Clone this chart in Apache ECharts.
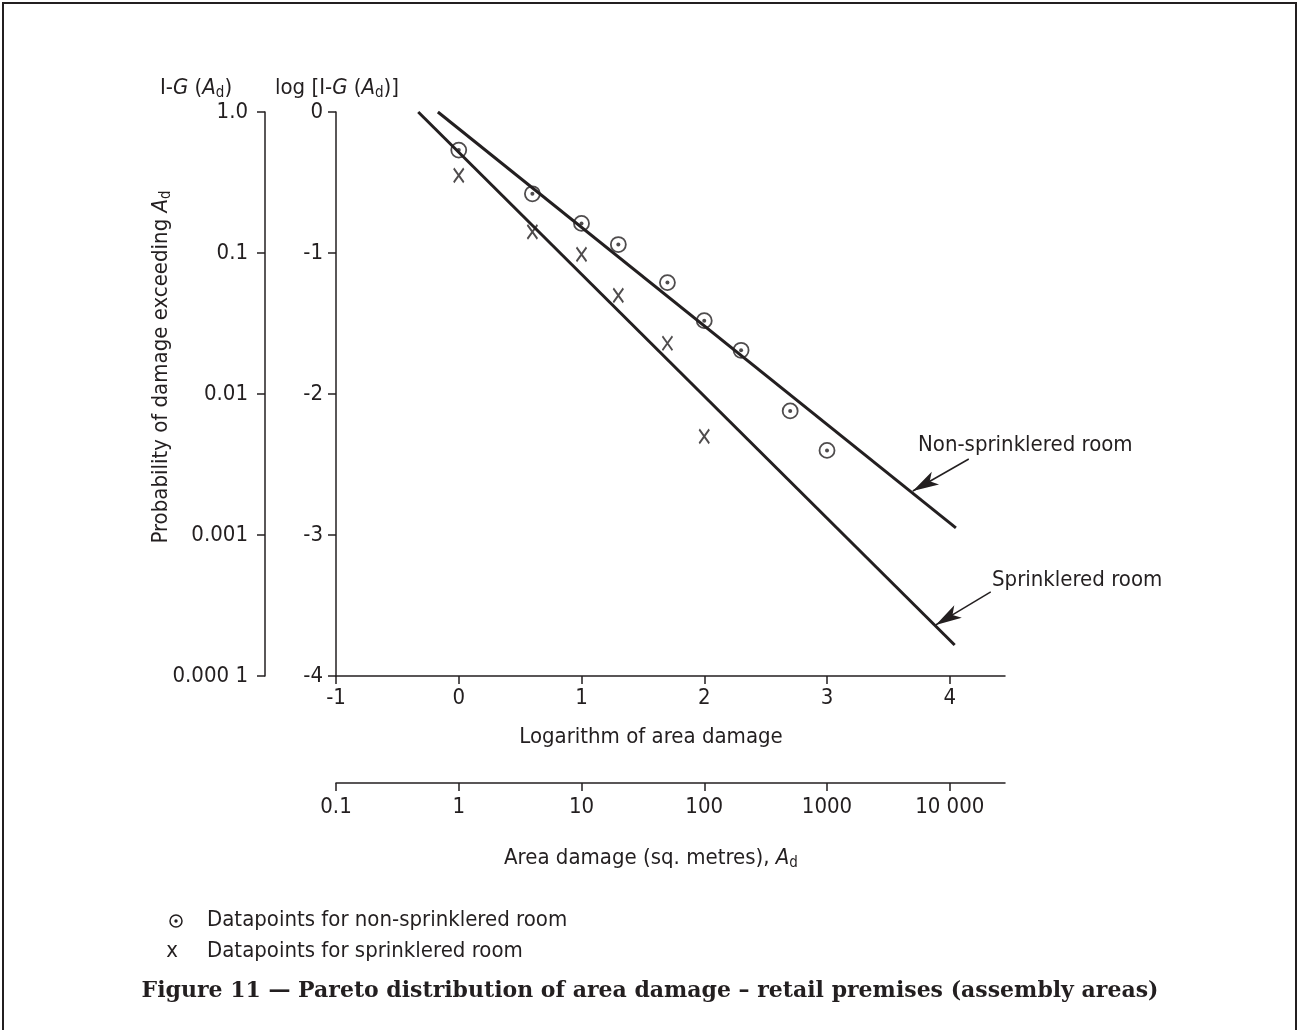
<!DOCTYPE html>
<html>
<head>
<meta charset="UTF-8">
<title>Figure 11 - Pareto distribution of area damage</title>
<script src="https://cdn.jsdelivr.net/npm/echarts@6/dist/echarts.min.js"></script>
<style>
body { margin: 0; padding: 0; background: #fff; }
#main { width: 1300px; height: 1030px; }
</style>
</head>
<body>
<div id="main"></div>
<script>
// values (x = log10 of area, y = log10 of 1-G)
var nonSprLogArea = [0, 0.6, 1, 1.3, 1.7, 2, 2.3, 2.7, 3];
var nonSprLogP = [-0.27, -0.58, -0.79, -0.94, -1.21, -1.48, -1.69, -2.12, -2.40];
var sprLogArea = [0, 0.6, 1, 1.3, 1.7, 2];
var sprLogP = [-0.45, -0.85, -1.01, -1.30, -1.64, -2.30];
// fitted straight lines, end points
var nonSprFit = [[-0.17, 0], [4.05, -2.95]];
var sprFit = [[-0.33, 0], [4.04, -3.78]];
// pointer arrows (from label to line)
var nonSprArrow = [[4.155, -2.461], [3.699, -2.688]];
var sprArrow = [[4.334, -3.404], [3.886, -3.638]];
// tick positions and labels
var xTickVals = [-1, 0, 1, 2, 3, 4];
var yTickVals = [-4, -3, -2, -1, 0];
var areaTicks = ['0.1', '1', '10', '100', '1000', '10 000'];
var probTicks = ['0.000 1', '0.001', '0.01', '0.1', '1.0'];

var ink = '#231f20';
var fam = '"DejaVu Sans Condensed", "Liberation Sans Narrow", "DejaVu Sans", sans-serif';
var fs = 22;

function pairs(xs, ys) {
    return xs.map(function (x, i) { return [x, ys[i]]; });
}

var rich = {
    i: { fontStyle: 'italic', fontSize: fs, fontFamily: fam, color: ink, lineHeight: 26 },
    s: { fontSize: 15, fontFamily: fam, color: ink, verticalAlign: 'bottom', lineHeight: 15 }
};

function txt(x, y, text, align, extra) {
    var o = {
        type: 'text', x: x, y: y, silent: true,
        style: {
            text: text, fill: ink, font: fs + 'px ' + fam,
            align: align || 'left', verticalAlign: 'middle',
            rich: rich, lineHeight: 26
        }
    };
    if (extra) { for (var k in extra) o[k] = extra[k]; }
    return o;
}

function axisCommon(ticks, margin, fmt, extra) {
    var a = {
        type: 'value', min: -1, max: 4.45, interval: 1,
        splitLine: { show: false },
        axisLine: { show: true, onZero: false, lineStyle: { color: ink, width: 1.5 } },
        axisTick: { show: true, inside: false, length: 8, customValues: ticks,
                    lineStyle: { color: ink, width: 1.5 } },
        axisLabel: { color: ink, fontSize: fs, fontFamily: fam, margin: margin,
                     customValues: ticks, formatter: fmt }
    };
    for (var k in extra) a[k] = extra[k];
    return a;
}

var chart = echarts.init(document.getElementById('main'));
var option = {
    animation: false,
    backgroundColor: '#fff',
    grid: { left: 336, top: 112, width: 669, height: 564, outerBoundsMode: 'none', containLabel: false },
    xAxis: [
        axisCommon(xTickVals, 11, function (v) { return String(v); }, { position: 'bottom' }),
        axisCommon(xTickVals, 13, function (v) { return areaTicks[v + 1]; }, { position: 'bottom', offset: 107 })
    ],
    yAxis: [
        axisCommon(yTickVals, 13, function (v) { return String(v); }, { min: -4, max: 0, position: 'left' }),
        axisCommon(yTickVals, 17, function (v) { return probTicks[v + 4]; },
            { min: -4, max: 0, position: 'left', offset: 71 })
    ],
    series: [
        {
            type: 'line', data: nonSprFit, symbol: 'none', silent: true,
            lineStyle: { color: ink, width: 3 },
            markLine: {
                silent: true, symbol: ['none', 'arrow'], symbolSize: [11, 26],
                label: { show: false },
                lineStyle: { type: 'solid', color: ink, width: 1.5 },
                data: [[{ coord: nonSprArrow[0] }, { coord: nonSprArrow[1] }]]
            }
        },
        {
            type: 'line', data: sprFit, symbol: 'none', silent: true,
            lineStyle: { color: ink, width: 3 },
            markLine: {
                silent: true, symbol: ['none', 'arrow'], symbolSize: [11, 26],
                label: { show: false },
                lineStyle: { type: 'solid', color: ink, width: 1.5 },
                data: [[{ coord: sprArrow[0] }, { coord: sprArrow[1] }]]
            }
        },
        {
            type: 'scatter', data: pairs(nonSprLogArea, nonSprLogP), symbol: 'circle', symbolSize: 15,
            itemStyle: { color: 'rgba(0,0,0,0)', borderColor: ink, borderWidth: 1.8 }
        },
        {
            type: 'scatter', data: pairs(nonSprLogArea, nonSprLogP), symbol: 'circle', symbolSize: 4,
            itemStyle: { color: ink }
        },
        {
            type: 'scatter', data: pairs(sprLogArea, sprLogP),
            symbol: 'path://M0,0L10,14M10,0L0,14', symbolSize: [10, 14],
            itemStyle: { color: 'rgba(0,0,0,0)', borderColor: ink, borderWidth: 2 }
        }
    ],
    graphic: [
        { type: 'rect', silent: true, shape: { x: 3, y: 3, width: 1293, height: 1050 },
          style: { fill: 'none', stroke: ink, lineWidth: 2 } },
        txt(160, 88, 'I-{i|G} ({i|A}{s|d})'),
        txt(275, 88, 'log [I-{i|G} ({i|A}{s|d})]'),
        txt(161, 367, 'Probability of damage exceeding {i|A}{s|d}', 'center', { rotation: Math.PI / 2 }),
        txt(651, 737, 'Logarithm of area damage', 'center'),
        txt(651, 858, 'Area damage (sq. metres), {i|A}{s|d}', 'center'),
        txt(918, 445, 'Non-sprinklered room'),
        txt(992, 580, 'Sprinklered room'),
        { type: 'circle', silent: true, shape: { cx: 176, cy: 921, r: 6 },
          style: { fill: 'none', stroke: ink, lineWidth: 1.5 } },
        { type: 'circle', silent: true, shape: { cx: 176, cy: 921, r: 1.7 }, style: { fill: ink } },
        txt(207, 920, 'Datapoints for non-sprinklered room'),
        txt(172, 951, 'x', 'center'),
        txt(207, 951, 'Datapoints for sprinklered room'),
        { type: 'text', x: 650, y: 991, silent: true,
          style: { text: 'Figure 11 \u2014 Pareto distribution of area damage \u2013 retail premises (assembly areas)',
                   fill: ink, font: 'bold 22px "DejaVu Serif", "Liberation Serif", serif',
                   align: 'center', verticalAlign: 'middle' } }
    ]
};
chart.setOption(option);
</script>
</body>
</html>
